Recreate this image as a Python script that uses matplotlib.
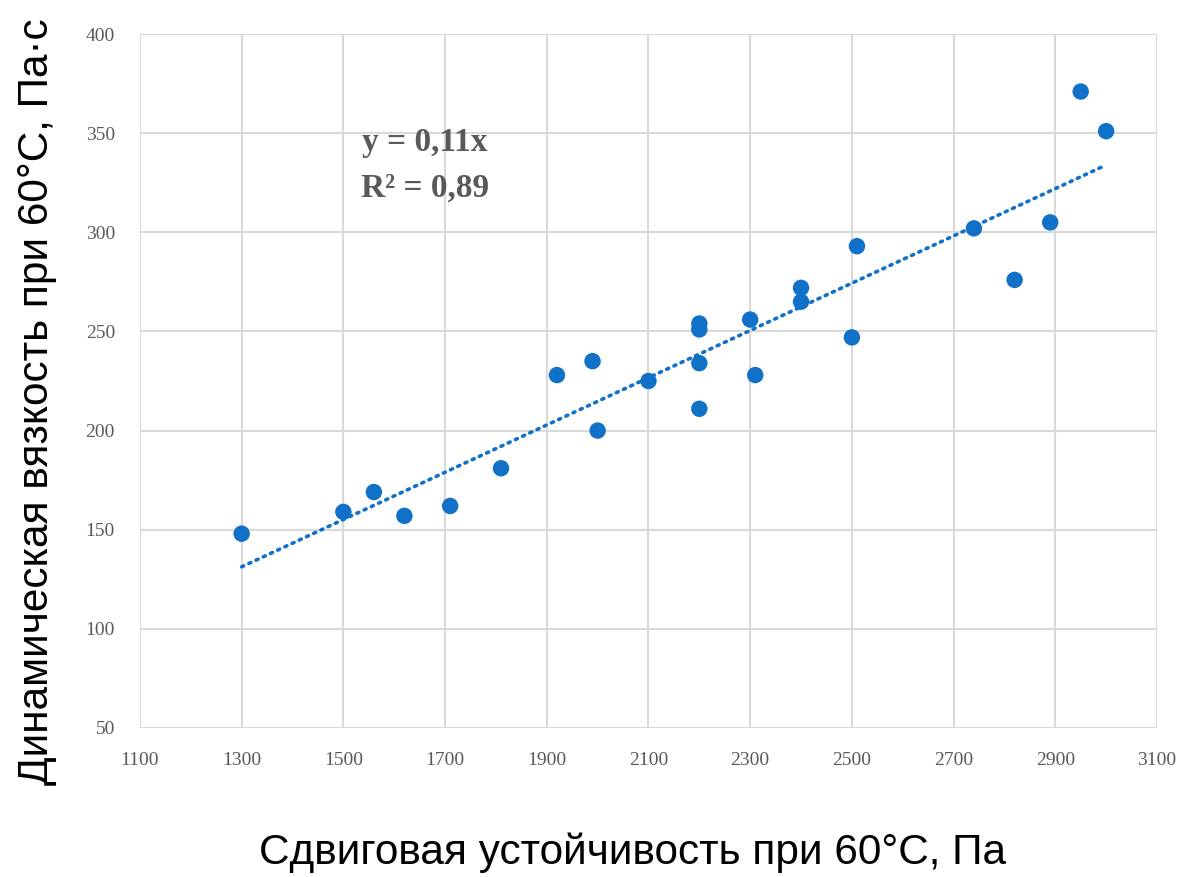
import numpy as np
import matplotlib.pyplot as plt

# shear stability at 60 C, Pa
shear = [1300, 1500, 1560, 1620, 1710, 1810, 1920, 1990, 2000, 2100,
         2200, 2200, 2200, 2200, 2300, 2310, 2400, 2400, 2500, 2510,
         2740, 2820, 2890, 2950, 3000]
# dynamic viscosity at 60 C, Pa*s
visc = [148, 159, 169, 157, 162, 181, 228, 235, 200, 225,
        254, 251, 234, 211, 256, 228, 272, 265, 247, 293,
        302, 276, 305, 371, 351]

x_ticks = list(range(1100, 3101, 200))
y_ticks = list(range(50, 401, 50))

blue = '#1170C8'
grey = '#595959'

fig = plt.figure(figsize=(11.8, 8.77), dpi=100)
fig.patch.set_facecolor('white')
ax = fig.add_axes([0.1186, 0.1699, 0.8619, 0.7913])

x = np.array(shear, dtype=float)
y = np.array(visc, dtype=float)

# linear trend
k, b = np.polyfit(x, y, 1)
xs = np.array([x.min(), x.max()])
ax.plot(xs, k * xs + b, color=blue, lw=2.6, ls=(0, (0.6, 1.6)),
        dash_capstyle='round', zorder=2)

ax.scatter(x, y, s=140, color=blue, edgecolors='none', zorder=3)

ax.set_xlim(1100, 3100)
ax.set_ylim(50, 400)
ax.set_xticks(x_ticks)
ax.set_yticks(y_ticks)
ax.grid(True, color='#d9d9d9', lw=1.5)
ax.set_axisbelow(True)
for s in ax.spines.values():
    s.set_visible(False)
ax.tick_params(length=0, labelsize=14, colors=grey)
ax.tick_params(axis='x', pad=17)
ax.tick_params(axis='y', pad=18)
for lab in ax.get_xticklabels() + ax.get_yticklabels():
    lab.set_family('Liberation Serif')

ax.text(0.28, 0.843, 'y = 0,11x', transform=ax.transAxes, ha='center',
        va='center', fontsize=24, fontweight='bold', color=grey,
        family='Liberation Serif')
ax.text(0.28, 0.778, 'R² = 0,89', transform=ax.transAxes, ha='center',
        va='center', fontsize=24, fontweight='bold', color=grey,
        family='Liberation Serif')

fig.text(0.536, 0.005, 'Сдвиговая устойчивость при 60°С, Па', ha='center',
         va='bottom', fontsize=30.5, family='Liberation Sans', color='black')
fig.text(0.031, 0.105, 'Динамическая вязкость при 60°С, Па·с', ha='center',
         va='bottom', rotation=90, fontsize=30.5, family='Liberation Sans',
         color='black')

fig.savefig('out.png', dpi=100)
